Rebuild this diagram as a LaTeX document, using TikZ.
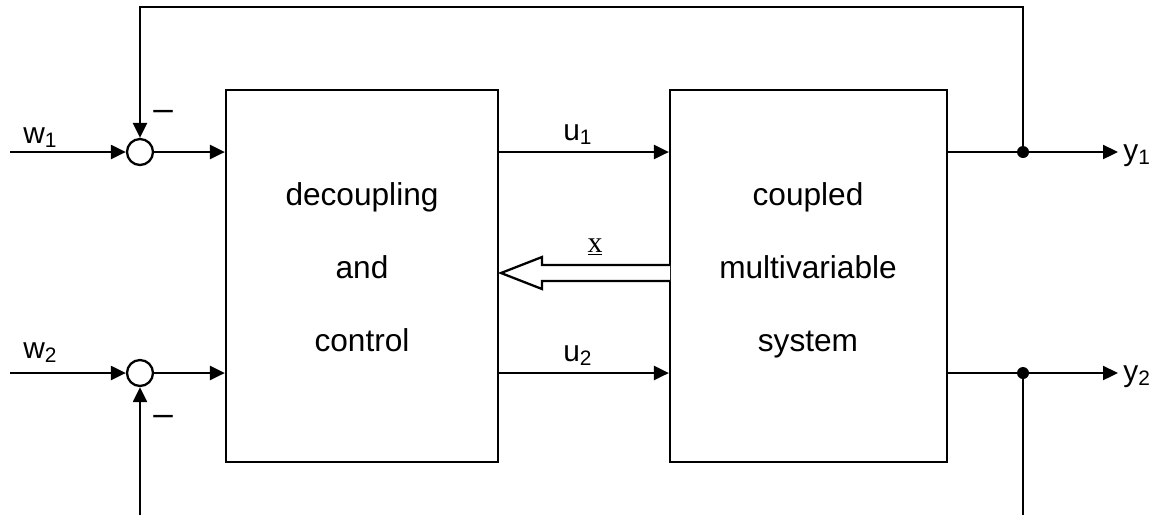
\documentclass[tikz,border=0pt]{standalone}
\usepackage{fontspec}
\setmainfont{Liberation Sans}
\newfontfamily\serifx{Liberation Serif}
\usetikzlibrary{arrows.meta,positioning,calc}

\tikzset{
  blk/.style={draw, line width=1.3pt, minimum width=5.44cm, minimum height=7.44cm},
  sumnode/.style={draw, circle, line width=1.3pt, minimum size=5.2mm, inner sep=0pt},
  dotnode/.style={fill, circle, minimum size=2.4mm, inner sep=0pt},
  sig/.style={line width=1.3pt, -{Triangle[length=3mm,width=2.8mm]}},
  wire/.style={line width=1.3pt},
  lbl/.style={font=\fontsize{17}{20}\selectfont, inner sep=0pt, anchor=base west},
  txt/.style={font=\fontsize{18}{22}\selectfont, inner sep=0pt, anchor=base},
}

\begin{document}
\begin{tikzpicture}[x=0.02cm, y=-0.02cm]
\useasboundingbox (0,0) rectangle (1159,515);
% blocks
\node[blk] (dec) at (362,276) {};
\node[blk, minimum width=5.54cm] (sys) at (808.5,276) {};
\node[txt] (dec1) at (362,205) {decoupling};
\node[txt] (dec2) at (362,278) {and};
\node[txt] (dec3) at (362,351) {control};
\node[txt] (sys1) at (808,205) {coupled};
\node[txt] (sys2) at (808,278) {multivariable};
\node[txt] (sys3) at (808,351) {system};
% summing points and branch points
\node[sumnode] (sum1) at (140,152) {};
\node[sumnode] (sum2) at (140,373) {};
\node[dotnode] (br1) at (1023,152) {};
\node[dotnode] (br2) at (1023,373) {};
\coordinate (w1in) at (10,152);
\coordinate (w2in) at (10,373);
\coordinate (y1out) at (1118,152);
\coordinate (y2out) at (1118,373);
\coordinate (top) at (0,7);
\coordinate (bot) at (0,515);
% inputs
\draw[sig] (w1in) -- (sum1);
\draw[sig] (w2in) -- (sum2);
\draw[sig] (sum1) -- (dec.west |- sum1);
\draw[sig] (sum2) -- (dec.west |- sum2);
% control signals
\draw[sig] (dec.east |- sum1) -- (sys.west |- sum1);
\draw[sig] (dec.east |- sum2) -- (sys.west |- sum2);
% outputs
\draw[wire] (sys.east |- br1) -- (br1);
\draw[wire] (sys.east |- br2) -- (br2);
\draw[sig] (br1) -- (y1out);
\draw[sig] (br2) -- (y2out);
% feedback
\draw[sig] (br1) -- (br1 |- top) -| (sum1);
\draw[wire] (br2) -- (br2 |- bot);
\draw[sig] (sum2 |- bot) -- (sum2);
% state vector
\draw[line width=1.3pt, fill=white] (670,265) -- (542,265) -- (542,257) -- (501,273)
  -- (542,289) -- (542,281) -- (670,281);
\node[font=\serifx\fontsize{17}{20}\selectfont, inner sep=0pt, anchor=base] (xlab) at (595,252) {\underline{x}};
% labels
\node[lbl] (w1) at (23,143) {w\textsubscript{1}};
\node[lbl] (w2) at (23,358) {w\textsubscript{2}};
\node[lbl] (u1) at (563,140) {u\textsubscript{1}};
\node[lbl] (u2) at (563,361) {u\textsubscript{2}};
\node[lbl] (y1) at (1123,160) {y\textsubscript{1}};
\node[lbl] (y2) at (1123,381) {y\textsubscript{2}};
\node[lbl, font=\fontsize{20}{24}\selectfont] (m1) at (153,120) {--};
\node[lbl, font=\fontsize{20}{24}\selectfont] (m2) at (153,425) {--};
\end{tikzpicture}
\end{document}
